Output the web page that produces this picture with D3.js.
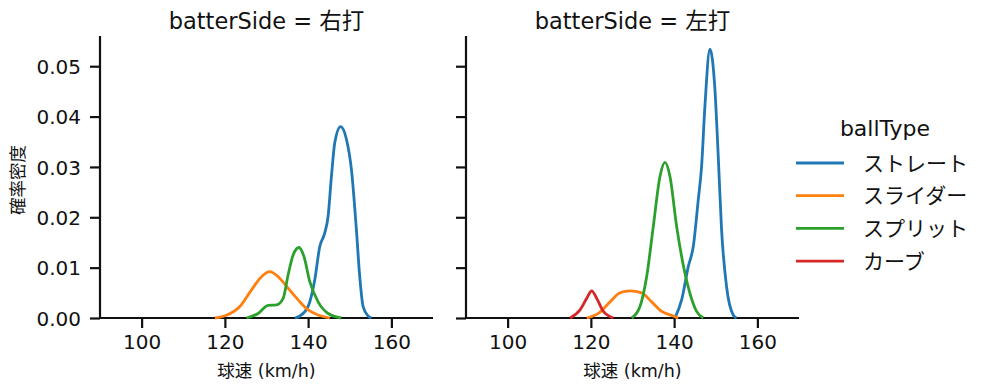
<!DOCTYPE html>
<html><head><meta charset="utf-8">
<script src="https://cdn.jsdelivr.net/npm/d3@7"></script>
<style>body{margin:0;background:#fff}svg{display:block}text{font-family:"DejaVu Sans","Noto Sans CJK JP",sans-serif;fill:#111}</style>
</head><body><svg id="c" width="995" height="391"></svg>
<script>
const panels = ["右打", "左打"];
const ballTypes = ["ストレート", "スライダー", "スプリット", "カーブ"];
const colors = ["#1f77b4", "#ff7f0e", "#2ca02c", "#d62728"];
const xTicks = [100, 120, 140, 160];
const yTicks = [0, 0.01, 0.02, 0.03, 0.04, 0.05];

// speed (km/h)
const rStraightX = [136.8,138.0,140.0,141.6,142.8,144.0,144.8,145.6,146.4,147.8,149.2,150.4,151.6,152.4,153.2,154.4,155.2];
const rStraightY = [0,0.0004,0.0023,0.0076,0.0142,0.0169,0.0202,0.0281,0.0348,0.0380,0.0355,0.0295,0.0175,0.0082,0.0023,0.0004,0];
const rSliderX = [117.6,120.8,123.6,126.4,128.8,130.8,132.8,135.2,137.6,140.0,142.4,145.2];
const rSliderY = [0,0.0007,0.0023,0.0056,0.0082,0.0092,0.0082,0.0059,0.0036,0.0016,0.0006,0];
const rSplitX = [125.2,128.0,130.4,132.4,134.0,135.2,136.4,137.8,139.0,140.4,142.4,144.8,148.0];
const rSplitY = [0,0.0009,0.0025,0.0026,0.0039,0.0086,0.0125,0.0140,0.0122,0.0072,0.0032,0.0009,0];

const lStraightX = [140.2,141.8,143.4,144.6,145.8,146.6,147.4,148.6,149.8,150.6,151.4,152.6,154.2,155.0];
const lStraightY = [0,0.0036,0.0102,0.0142,0.0235,0.0301,0.0421,0.0534,0.0454,0.0321,0.0175,0.0062,0.0006,0];
const lSliderX = [119.0,121.8,124.6,127.0,129.4,132.2,134.6,137.0,139.8,141.0];
const lSliderY = [0,0.0009,0.0032,0.0050,0.0054,0.0050,0.0032,0.0013,0.0004,0];
const lSplitX = [129.8,131.8,133.4,135.0,136.6,137.8,139.0,140.6,142.6,143.8,145.4,147.0];
const lSplitY = [0,0.0023,0.0082,0.0182,0.0281,0.0309,0.0281,0.0182,0.0089,0.0049,0.0013,0];
const lCurveX = [115.0,117.4,119.0,120.2,121.4,123.0,125.4];
const lCurveY = [0,0.0016,0.0039,0.0054,0.0039,0.0013,0];

const data = {
  "右打": [[rStraightX,rStraightY],[rSliderX,rSliderY],[rSplitX,rSplitY],null],
  "左打": [[lStraightX,lStraightY],[lSliderX,lSliderY],[lSplitX,lSplitY],[lCurveX,lCurveY]]
};

const svg = d3.select("#c");
const plotTop = 36, plotBottom = 318, pw = 333;
const lefts = [100, 466];
const y = d3.scaleLinear().domain([0, 0.056]).range([plotBottom, plotTop]);

panels.forEach((p, i) => {
  const x = d3.scaleLinear().domain([90, 170]).range([lefts[i], lefts[i] + pw]);
  const g = svg.append("g");
  const xa = g.append("g").attr("transform", `translate(0,${plotBottom})`)
    .call(d3.axisBottom(x).tickValues(xTicks).tickSize(10).tickPadding(7).tickFormat(d3.format("d")));
  const ya = g.append("g").attr("transform", `translate(${lefts[i]},0)`)
    .call(d3.axisLeft(y).tickValues(yTicks).tickSize(10).tickPadding(9).tickFormat(i === 0 ? d3.format(".2f") : ""));
  [xa, ya].forEach(a => {
    a.select(".domain").attr("stroke", "#111").attr("stroke-width", 2.2);
    a.selectAll(".tick line").attr("stroke", "#111").attr("stroke-width", 2.2);
    a.selectAll(".tick text").style("font-size", "20px").attr("fill", "#111")
      .style("font-family", '"DejaVu Sans",sans-serif');
  });
  ya.select(".domain").attr("d", `M0,${plotBottom}V${plotTop}`);
  xa.select(".domain").attr("d", `M${lefts[i]},0H${lefts[i] + pw}`);
  ya.selectAll(".tick text").attr("dy", "0.36em");

  const line = d3.line().x(d => x(d[0])).y(d => y(d[1])).curve(d3.curveMonotoneX);
  data[p].forEach((s, k) => {
    if (!s) return;
    const pts = s[0].map((v, j) => [v, s[1][j]]);
    g.append("path").attr("d", line(pts)).attr("fill", "none")
      .attr("stroke", colors[k]).attr("stroke-width", 2.8).attr("stroke-linejoin", "round");
  });

  g.append("text").attr("x", lefts[i] + pw / 2).attr("y", 29).attr("text-anchor", "middle")
    .style("font-size", "22.5px").text(`batterSide = ${p}`);
  g.append("text").attr("x", lefts[i] + pw / 2).attr("y", 377).attr("text-anchor", "middle")
    .style("font-size", "17.5px").text("球速 (km/h)");
});

svg.append("text").attr("transform", "translate(24,180) rotate(-90)").attr("text-anchor", "middle")
  .style("font-size", "17.5px").text("確率密度");

const lg = svg.append("g");
lg.append("text").attr("x", 885).attr("y", 136).attr("text-anchor", "middle").style("font-size", "22px").text("ballType");
ballTypes.forEach((b, k) => {
  const yy = 163 + k * 32.7;
  lg.append("line").attr("x1", 796).attr("x2", 844).attr("y1", yy).attr("y2", yy)
    .attr("stroke", colors[k]).attr("stroke-width", 2.8);
  lg.append("text").attr("x", 863).attr("y", yy).attr("dy", "0.36em").style("font-size", "21px")
    .style("font-family", '"Noto Sans CJK JP",sans-serif').text(b);
});
</script></body></html>
